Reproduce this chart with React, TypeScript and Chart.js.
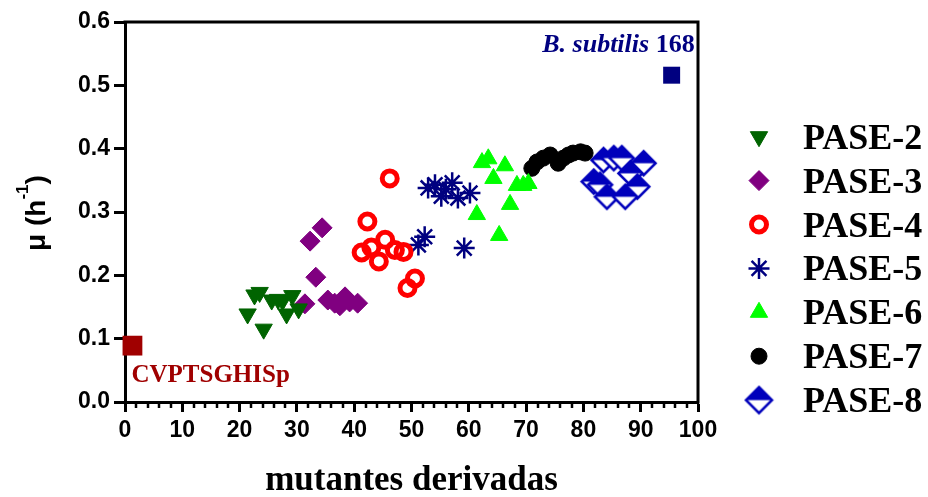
import React, { useEffect, useRef } from 'react';
import { Chart, registerables } from 'chart.js';
import { drawPoint } from 'chart.js/helpers';

Chart.register(...registerables);

// ---- data ----
const seriesNames = ['PASE-2', 'PASE-3', 'PASE-4', 'PASE-5', 'PASE-6', 'PASE-7', 'PASE-8'];

const pase2X = [21.4, 22.6, 23.5, 24.2, 25.6, 26.7, 27.5, 28.2, 29.2, 30.3];
const pase2Y = [0.139, 0.169, 0.173, 0.115, 0.161, 0.162, 0.160, 0.139, 0.168, 0.147];

const pase3X = [32.3, 34.4, 33.3, 31.4, 35.4, 36.6, 37.5, 38.4, 39.2, 40.6];
const pase3Y = [0.254, 0.275, 0.197, 0.155, 0.161, 0.156, 0.152, 0.166, 0.158, 0.156];

const pase4X = [46.2, 42.3, 41.3, 43.0, 45.4, 44.3, 47.1, 48.6, 49.3, 50.6];
const pase4Y = [0.353, 0.285, 0.236, 0.244, 0.256, 0.222, 0.240, 0.237, 0.180, 0.195];

const pase5X = [52.9, 54.1, 55.2, 56.0, 57.1, 58.1, 60.2, 51.2, 52.3, 59.2];
const pase5Y = [0.338, 0.343, 0.325, 0.336, 0.346, 0.322, 0.330, 0.248, 0.261, 0.243];

const pase6X = [62.3, 63.4, 66.3, 64.3, 68.4, 69.5, 70.4, 67.2, 61.4, 65.3];
const pase6Y = [0.378, 0.384, 0.373, 0.353, 0.342, 0.342, 0.345, 0.312, 0.296, 0.263];

const pase7X = [71.0, 71.9, 73.0, 74.2, 75.6, 76.5, 77.4, 78.2, 79.5, 80.3];
const pase7Y = [0.369, 0.379, 0.385, 0.390, 0.377, 0.385, 0.390, 0.393, 0.395, 0.393];

const pase8X = [83.5, 85.3, 86.7, 90.5, 81.8, 82.9, 88.2, 89.4, 84.1, 87.3];
const pase8Y = [0.382, 0.385, 0.385, 0.377, 0.348, 0.343, 0.361, 0.340, 0.324, 0.324];

// reference strains
const parentLabel = 'CVPTSGHISp';
const parentX = [1.3];
const parentY = [0.089];

const wildLabelItalic = 'B. subtilis';
const wildLabelPlain = ' 168';
const wildX = [95.4];
const wildY = [0.516];

const xTitle = 'mutantes derivadas';

const zip = (xs: number[], ys: number[]) => xs.map((x, i) => ({ x, y: ys[i] }));

// half-filled diamond marker (upper half solid, lower half white)
function halfDiamond(half: number, color: string, lw: number): HTMLCanvasElement {
  const size = Math.ceil(2 * half + lw + 2);
  const c = document.createElement('canvas');
  c.width = size;
  c.height = size;
  const g = c.getContext('2d')!;
  const m = size / 2;
  g.beginPath();
  g.moveTo(m, m - half);
  g.lineTo(m + half, m);
  g.lineTo(m, m + half);
  g.lineTo(m - half, m);
  g.closePath();
  g.fillStyle = '#ffffff';
  g.fill();
  g.beginPath();
  g.moveTo(m - half, m);
  g.lineTo(m, m - half);
  g.lineTo(m + half, m);
  g.closePath();
  g.fillStyle = color;
  g.fill();
  g.beginPath();
  g.moveTo(m, m - half);
  g.lineTo(m + half, m);
  g.lineTo(m, m + half);
  g.lineTo(m - half, m);
  g.closePath();
  g.lineWidth = lw;
  g.lineJoin = 'miter';
  g.strokeStyle = color;
  g.stroke();
  return c;
}

const SANS = '"Liberation Sans", Arial, sans-serif';
const SERIF = '"Liberation Serif", "Times New Roman", serif';

export default function App() {
  const ref = useRef<HTMLCanvasElement | null>(null);

  useEffect(() => {
    document.body.style.margin = '0';
    const canvas = ref.current;
    if (!canvas) return;

    const blue8 = '#0000BB';
    const plotDiamond = halfDiamond(12, blue8, 2.5);
    const legendDiamond = halfDiamond(13, blue8, 2.5);

    const series = [
      { data: zip(pase2X, pase2Y), pointStyle: 'triangle', rotation: 180, radius: 10, bg: '#006400', border: '#006400', bw: 1 },
      { data: zip(pase3X, pase3Y), pointStyle: 'rectRot', rotation: 0, radius: 10, bg: '#800080', border: '#800080', bw: 1 },
      { data: zip(pase4X, pase4Y), pointStyle: 'circle', rotation: 0, radius: 7.5, bg: 'rgba(0,0,0,0)', border: '#FF0000', bw: 5 },
      { data: zip(pase5X, pase5Y), pointStyle: 'star', rotation: 0, radius: 10.5, bg: 'rgba(0,0,0,0)', border: '#000080', bw: 2.5 },
      { data: zip(pase6X, pase6Y), pointStyle: 'triangle', rotation: 0, radius: 10, bg: '#00FF00', border: '#00FF00', bw: 1 },
      { data: zip(pase7X, pase7Y), pointStyle: 'circle', rotation: 0, radius: 8, bg: '#000000', border: '#000000', bw: 1 },
      { data: zip(pase8X, pase8Y), pointStyle: plotDiamond as any, rotation: 0, radius: 12, bg: blue8, border: blue8, bw: 0 },
    ];

    const datasets: any[] = series.map((s, i) => ({
      label: seriesNames[i],
      data: s.data,
      pointStyle: s.pointStyle,
      rotation: s.rotation,
      pointRadius: s.radius,
      backgroundColor: s.bg,
      borderColor: s.border,
      borderWidth: s.bw,
      showLine: false,
      clip: false,
    }));
    datasets.push({
      label: parentLabel,
      data: zip(parentX, parentY),
      pointStyle: 'rect',
      pointRadius: 14,
      backgroundColor: '#A00000',
      borderColor: '#A00000',
      borderWidth: 0,
      clip: false,
    });
    datasets.push({
      label: 'B. subtilis 168',
      data: zip(wildX, wildY),
      pointStyle: 'rect',
      pointRadius: 12,
      backgroundColor: '#000080',
      borderColor: '#000080',
      borderWidth: 0,
      clip: false,
    });

    const decorations = {
      id: 'decorations',
      beforeDatasetsDraw(chart: any) {
        const { ctx, chartArea } = chart;
        const { left, right, top, bottom } = chartArea;
        ctx.save();
        ctx.strokeStyle = '#000';
        ctx.lineWidth = 3;
        ctx.lineCap = 'square';
        ctx.beginPath();
        ctx.moveTo(left, top);
        ctx.lineTo(right, top);
        ctx.lineTo(right, bottom);
        ctx.stroke();
        // minor ticks on the x axis
        const xs = chart.scales.x;
        ctx.lineWidth = 2.5;
        ctx.lineCap = 'butt';
        for (let v = 2; v < 100; v += 2) {
          if (v % 10 === 0) continue;
          const px = Math.round(xs.getPixelForValue(v));
          ctx.beginPath();
          ctx.moveTo(px, bottom);
          ctx.lineTo(px, bottom + 6);
          ctx.stroke();
        }
        ctx.restore();
      },
      afterDraw(chart: any) {
        const { ctx, chartArea } = chart;
        const xs = chart.scales.x;
        const ys = chart.scales.y;
        ctx.save();

        // strain labels
        const p0x = xs.getPixelForValue(parentX[0]);
        const p0y = ys.getPixelForValue(parentY[0]);
        ctx.fillStyle = '#A00000';
        ctx.font = `bold 25px ${SERIF}`;
        ctx.textAlign = 'left';
        ctx.textBaseline = 'alphabetic';
        ctx.fillText(parentLabel, p0x - 1, p0y + 36);

        const w0x = xs.getPixelForValue(wildX[0]);
        const w0y = ys.getPixelForValue(wildY[0]);
        ctx.fillStyle = '#000080';
        const fItalic = `italic bold 26px ${SERIF}`;
        const fPlain = `bold 26px ${SERIF}`;
        ctx.font = fPlain;
        const wPlain = ctx.measureText(wildLabelPlain).width;
        ctx.font = fItalic;
        const wItalic = ctx.measureText(wildLabelItalic).width;
        const rightEdge = w0x + 23;
        const base = w0y - 23;
        ctx.fillText(wildLabelItalic, rightEdge - wPlain - wItalic, base);
        ctx.font = fPlain;
        ctx.fillText(wildLabelPlain, rightEdge - wPlain, base);

        // x title
        ctx.fillStyle = '#000';
        ctx.font = `bold 35px ${SERIF}`;
        ctx.textAlign = 'center';
        ctx.fillText(xTitle, (chartArea.left + chartArea.right) / 2, 490);

        // y title with superscript
        ctx.save();
        ctx.translate(45, 213);
        ctx.rotate(-Math.PI / 2);
        ctx.textAlign = 'left';
        const fMain = `bold 28px ${SANS}`;
        const fSup = `bold 17px ${SANS}`;
        const parts: [string, string, number][] = [
          ['\u03bc (h', fMain, 0],
          ['-1', fSup, -17],
          [')', fMain, 0],
        ];
        let total = 0;
        for (const [t, f] of parts) {
          ctx.font = f;
          total += ctx.measureText(t).width;
        }
        let cx = -total / 2;
        for (const [t, f, dy] of parts) {
          ctx.font = f;
          ctx.fillText(t, cx, dy);
          cx += ctx.measureText(t).width;
        }
        ctx.restore();

        // legend
        const markerX = 759;
        const textX = 803;
        const firstY = 136.7;
        const gap = 43.9;
        for (let i = 0; i < seriesNames.length; i++) {
          const ds = chart.data.datasets[i];
          const y = firstY + i * gap;
          ctx.save();
          ctx.fillStyle = ds.backgroundColor;
          ctx.strokeStyle = ds.borderColor;
          ctx.lineWidth = ds.borderWidth;
          const style = i === 6 ? legendDiamond : ds.pointStyle;
          drawPoint(ctx, {
            pointStyle: style,
            rotation: ds.rotation || 0,
            radius: ds.pointRadius,
            borderWidth: ds.borderWidth,
          } as any, markerX, y);
          ctx.restore();
          ctx.fillStyle = '#000';
          ctx.font = `bold 36px ${SERIF}`;
          ctx.textAlign = 'left';
          ctx.textBaseline = 'alphabetic';
          ctx.fillText(seriesNames[i], textX, y + 12);
        }
        ctx.restore();
      },
    };

    const tickFont = { family: SANS, weight: 'bold' as const, size: 23 };

    const chart = new Chart(canvas, {
      type: 'scatter',
      data: { datasets },
      options: {
        responsive: false,
        animation: false,
        events: [],
        layout: { padding: { top: 22, right: 230, bottom: 0, left: 0 } },
        plugins: { legend: { display: false }, tooltip: { enabled: false } },
        scales: {
          x: {
            type: 'linear',
            min: 0,
            max: 100,
            ticks: { stepSize: 10, font: tickFont, color: '#000', padding: 5, maxRotation: 0 },
            grid: { drawOnChartArea: false, drawTicks: true, tickLength: 10, tickWidth: 3, tickColor: '#000' },
            border: { display: true, color: '#000', width: 3 },
            afterFit: (s: any) => { s.height = 95; },
          },
          y: {
            type: 'linear',
            min: 0,
            max: 0.6,
            ticks: {
              stepSize: 0.1,
              font: tickFont,
              color: '#000',
              padding: 4,
              callback: (v: any) => Number(v).toFixed(1),
            },
            grid: { drawOnChartArea: false, drawTicks: true, tickLength: 11, tickWidth: 3, tickColor: '#000' },
            border: { display: true, color: '#000', width: 3 },
            afterFit: (s: any) => { s.width = 125; },
          },
        },
      },
      plugins: [decorations],
    });

    return () => chart.destroy();
  }, []);

  return (
    <div style={{ width: 928, height: 497, background: '#fff' }}>
      <canvas ref={ref} width={928} height={497} style={{ display: 'block' }} />
    </div>
  );
}
